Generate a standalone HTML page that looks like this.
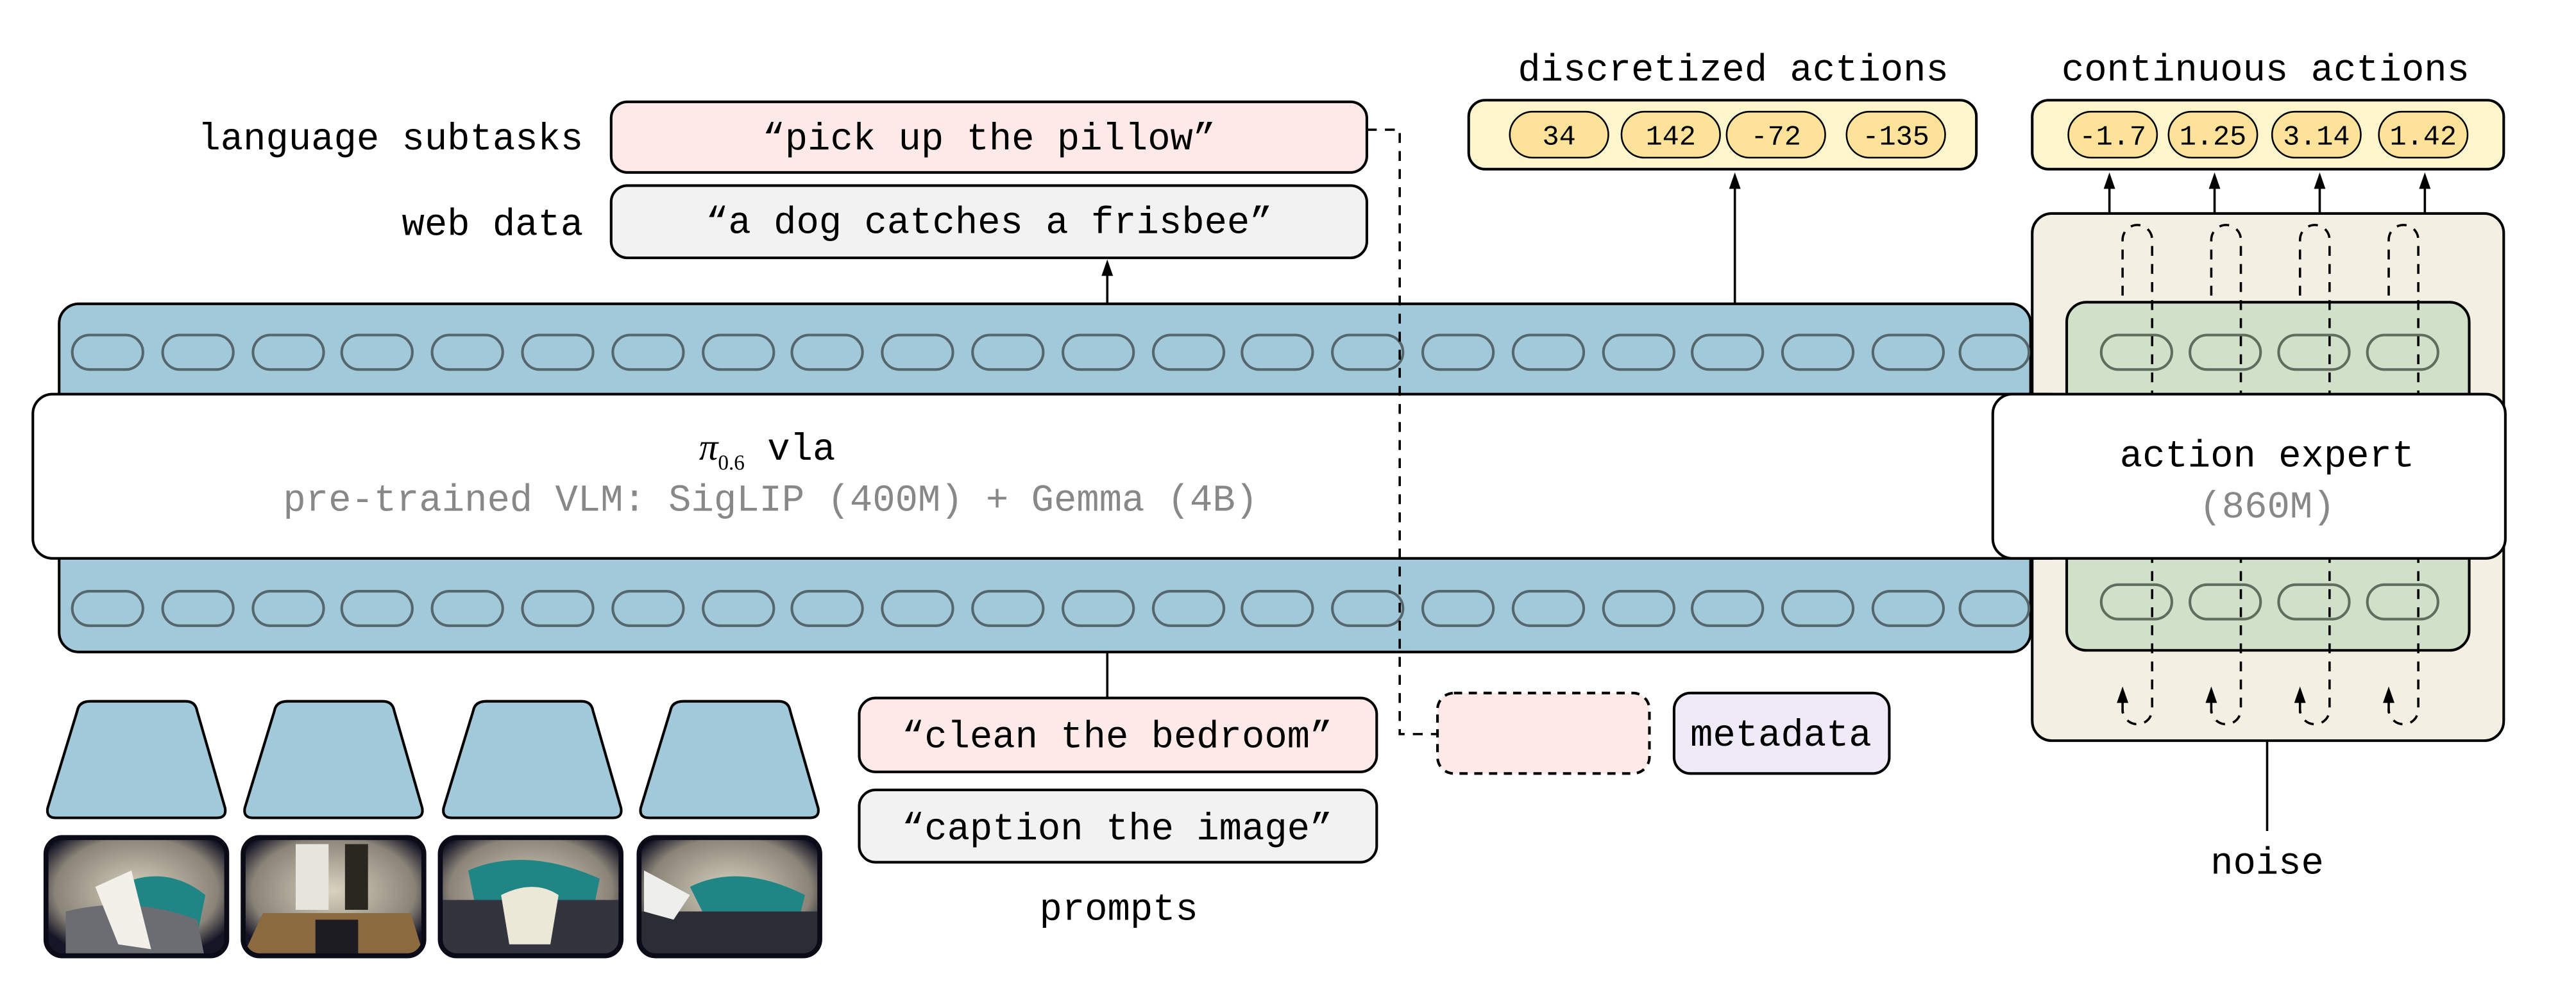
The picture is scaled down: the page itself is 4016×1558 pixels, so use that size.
<!DOCTYPE html>
<html><head><meta charset="utf-8"><style>
html,body{margin:0;padding:0;background:#fff;}
svg{display:block;}
text{font-family:"Liberation Mono","DejaVu Sans Mono",monospace;}
</style></head><body>
<svg width="4016" height="1558" viewBox="0 0 1568 608.3" xmlns="http://www.w3.org/2000/svg">
<defs>
<clipPath id="p1"><rect x="28" y="510" width="110" height="72" rx="10"/></clipPath>
<clipPath id="p2"><rect x="148" y="510" width="110" height="72" rx="10"/></clipPath>
<clipPath id="p3"><rect x="268" y="510" width="110" height="72" rx="10"/></clipPath>
<clipPath id="p4"><rect x="389" y="510" width="110" height="72" rx="10"/></clipPath>
<radialGradient id="room" cx="0.5" cy="0.45" r="0.6"><stop offset="0" stop-color="#d8d2c0"/><stop offset="0.75" stop-color="#8a8478"/><stop offset="1" stop-color="#151526"/></radialGradient>
</defs>

<!-- top labels -->
<text x="355" y="91" font-size="23" text-anchor="end">language subtasks</text>
<rect x="372" y="62" width="460" height="43" rx="10" fill="#fde9e7" stroke="#000" stroke-width="1.6"/>
<text x="602" y="91" font-size="23" text-anchor="middle">“pick up the pillow”</text>
<text x="355" y="143" font-size="23" text-anchor="end">web data</text>
<rect x="372" y="113" width="460" height="44" rx="10" fill="#f2f2f2" stroke="#000" stroke-width="1.6"/>
<text x="602" y="142" font-size="23" text-anchor="middle">“a dog catches a frisbee”</text>
<line x1="674" y1="185" x2="674" y2="166" stroke="#000" stroke-width="1.4"/>
<path d="M670.5,168 L674,158 L677.5,168 Z"/>

<!-- discretized -->
<text x="1055" y="49" font-size="23" text-anchor="middle">discretized actions</text>
<rect x="894" y="61" width="309" height="42" rx="10" fill="#fdf6cc" stroke="#000" stroke-width="1.6"/>
<g stroke="#000" stroke-width="1">
<rect x="919" y="68" width="60" height="28" rx="14" fill="#fde29a"/>
<rect x="987" y="68" width="60" height="28" rx="14" fill="#fde29a"/>
<rect x="1051" y="68" width="60" height="28" rx="14" fill="#fde29a"/>
<rect x="1124" y="68" width="60" height="28" rx="14" fill="#fde29a"/>
</g>
<g font-size="17" text-anchor="middle">
<text x="949" y="88">34</text><text x="1017" y="88">142</text><text x="1081" y="88">-72</text><text x="1154" y="88">-135</text>
</g>
<line x1="1056" y1="185" x2="1056" y2="113" stroke="#000" stroke-width="1.4"/>
<path d="M1052.5,115 L1056,105 L1059.5,115 Z"/>

<!-- continuous -->
<text x="1379" y="49" font-size="23" text-anchor="middle">continuous actions</text>
<rect x="1237" y="61" width="287" height="42" rx="10" fill="#fdf6cc" stroke="#000" stroke-width="1.6"/>
<g stroke="#000" stroke-width="1">
<rect x="1259" y="68" width="54" height="28" rx="14" fill="#fde29a"/>
<rect x="1320" y="68" width="54" height="28" rx="14" fill="#fde29a"/>
<rect x="1383" y="68" width="54" height="28" rx="14" fill="#fde29a"/>
<rect x="1448" y="68" width="54" height="28" rx="14" fill="#fde29a"/>
</g>
<g font-size="17" text-anchor="middle">
<text x="1286" y="88">-1.7</text><text x="1347" y="88">1.25</text><text x="1410" y="88">3.14</text><text x="1475" y="88">1.42</text>
</g>

<!-- action expert outer -->
<rect x="1237" y="130" width="287" height="321" rx="12" fill="#f3efe2" stroke="#000" stroke-width="1.6"/>
<g stroke="#000" stroke-width="1.4">
<line x1="1284" y1="130" x2="1284" y2="113"/><line x1="1348" y1="130" x2="1348" y2="113"/><line x1="1412" y1="130" x2="1412" y2="113"/><line x1="1476" y1="130" x2="1476" y2="113"/>
</g>
<path d="M1280.5,115 L1284,105 L1287.5,115 Z M1344.5,115 L1348,105 L1351.5,115 Z M1408.5,115 L1412,105 L1415.5,115 Z M1472.5,115 L1476,105 L1479.5,115 Z"/>

<!-- blue band -->
<rect x="36" y="185" width="1200" height="212" rx="12" fill="#a2c9d9" stroke="#000" stroke-width="1.6"/>
<g fill="none" stroke="#56666d" stroke-width="1.6" id="tk">
<rect x="44" y="204" width="43" height="21" rx="10.5"/><rect x="99" y="204" width="43" height="21" rx="10.5"/><rect x="154" y="204" width="43" height="21" rx="10.5"/><rect x="208" y="204" width="43" height="21" rx="10.5"/><rect x="263" y="204" width="43" height="21" rx="10.5"/><rect x="318" y="204" width="43" height="21" rx="10.5"/><rect x="373" y="204" width="43" height="21" rx="10.5"/><rect x="428" y="204" width="43" height="21" rx="10.5"/><rect x="482" y="204" width="43" height="21" rx="10.5"/><rect x="537" y="204" width="43" height="21" rx="10.5"/><rect x="592" y="204" width="43" height="21" rx="10.5"/><rect x="647" y="204" width="43" height="21" rx="10.5"/><rect x="702" y="204" width="43" height="21" rx="10.5"/><rect x="756" y="204" width="43" height="21" rx="10.5"/><rect x="811" y="204" width="43" height="21" rx="10.5"/><rect x="866" y="204" width="43" height="21" rx="10.5"/><rect x="921" y="204" width="43" height="21" rx="10.5"/><rect x="976" y="204" width="43" height="21" rx="10.5"/><rect x="1030" y="204" width="43" height="21" rx="10.5"/><rect x="1085" y="204" width="43" height="21" rx="10.5"/><rect x="1140" y="204" width="43" height="21" rx="10.5"/><rect x="1193" y="204" width="42" height="21" rx="10.5"/>
</g>
<use href="#tk" y="156"/>

<!-- green -->
<rect x="1258" y="184" width="245" height="212" rx="12" fill="#d0e0c9" stroke="#000" stroke-width="1.6"/>
<g fill="none" stroke="#5f6d5e" stroke-width="1.6" id="gt">
<rect x="1279" y="204" width="43" height="21" rx="10.5"/><rect x="1333" y="204" width="43" height="21" rx="10.5"/><rect x="1387" y="204" width="43" height="21" rx="10.5"/><rect x="1441" y="204" width="43" height="21" rx="10.5"/>
</g>
<use href="#gt" y="152"/>

<!-- dashed loops -->
<g fill="none" stroke="#000" stroke-width="1.4" stroke-dasharray="6,5">
<path d="M1292,180 L1292,146 A9,9 0 0 1 1310,146 L1310,432 A9,9 0 0 1 1292,432"/>
<path d="M1346,180 L1346,146 A9,9 0 0 1 1364,146 L1364,432 A9,9 0 0 1 1346,432"/>
<path d="M1400,180 L1400,146 A9,9 0 0 1 1418,146 L1418,432 A9,9 0 0 1 1400,432"/>
<path d="M1454,180 L1454,146 A9,9 0 0 1 1472,146 L1472,432 A9,9 0 0 1 1454,432"/>
</g>
<g stroke="#000" stroke-width="1.4">
<line x1="1292" y1="434" x2="1292" y2="426"/><line x1="1346" y1="434" x2="1346" y2="426"/><line x1="1400" y1="434" x2="1400" y2="426"/><line x1="1454" y1="434" x2="1454" y2="426"/>
</g>
<path d="M1288.5,428 L1292,418 L1295.5,428 Z M1342.5,428 L1346,418 L1349.5,428 Z M1396.5,428 L1400,418 L1403.5,428 Z M1450.5,428 L1454,418 L1457.5,428 Z"/>

<!-- VLM white -->
<rect x="20" y="240" width="1240" height="100" rx="12" fill="#fff" stroke="#000" stroke-width="1.6"/>
<text x="467" y="280" font-size="23" text-anchor="middle"><tspan font-family="Liberation Serif,serif" font-style="italic">π</tspan><tspan font-family="Liberation Serif,serif" font-size="13" dy="6">0.6</tspan><tspan dy="-6"> vla</tspan></text>
<text x="469" y="311" font-size="23" text-anchor="middle" fill="#888">pre-trained VLM: SigLIP (400M) + Gemma (4B)</text>

<!-- action expert white -->
<rect x="1213" y="240" width="312" height="100" rx="12" fill="#fff" stroke="#000" stroke-width="1.6"/>
<text x="1380" y="284" font-size="23" text-anchor="middle">action expert</text>
<text x="1380" y="315" font-size="23" text-anchor="middle" fill="#888">(860M)</text>

<!-- dashed connector -->
<path d="M832,79 L852,79 L852,447 L875,447" fill="none" stroke="#000" stroke-width="1.4" stroke-dasharray="6,5"/>
<rect x="875" y="422" width="129" height="49" rx="10" fill="#fde9e7" stroke="#000" stroke-width="1.6" stroke-dasharray="5,4"/>
<rect x="1019" y="422" width="131" height="49" rx="10" fill="#efeaf7" stroke="#000" stroke-width="1.6"/>
<text x="1084" y="454" font-size="23" text-anchor="middle">metadata</text>

<!-- prompts -->
<line x1="674" y1="397" x2="674" y2="425" stroke="#000" stroke-width="1.4"/>
<rect x="523" y="425" width="315" height="45" rx="10" fill="#fde9e7" stroke="#000" stroke-width="1.6"/>
<text x="680" y="455" font-size="23" text-anchor="middle">“clean the bedroom”</text>
<rect x="523" y="481" width="315" height="44" rx="10" fill="#f2f2f2" stroke="#000" stroke-width="1.6"/>
<text x="680" y="511" font-size="23" text-anchor="middle">“caption the image”</text>
<text x="681" y="560" font-size="23" text-anchor="middle">prompts</text>

<!-- noise -->
<line x1="1380" y1="451" x2="1380" y2="506" stroke="#000" stroke-width="1.4"/>
<text x="1380" y="532" font-size="23" text-anchor="middle">noise</text>

<!-- trapezoids -->
<g fill="#a2c9d9" stroke="#000" stroke-width="1.6">
<path d="M55,427 L113,427 Q119,427 120,433 L137,492 Q138,498 132,498 L34,498 Q28,498 29,492 L47,433 Q48,427 55,427 Z"/>
<path d="M175,427 L233,427 Q239,427 240,433 L257,492 Q258,498 252,498 L154,498 Q148,498 149,492 L167,433 Q168,427 175,427 Z"/>
<path d="M296,427 L354,427 Q360,427 361,433 L378,492 Q379,498 373,498 L275,498 Q269,498 270,492 L288,433 Q289,427 296,427 Z"/>
<path d="M416,427 L474,427 Q480,427 481,433 L498,492 Q499,498 493,498 L395,498 Q389,498 390,492 L408,433 Q409,427 416,427 Z"/>
</g>

<!-- photos -->
<g clip-path="url(#p1)"><rect x="28" y="510" width="110" height="72" fill="url(#room)"/><path d="M70,540 Q100,525 125,545 L120,570 L80,565 Z" fill="#1f8585"/><path d="M40,555 Q80,545 120,560 L125,585 L40,585 Z" fill="#6b6d72"/><path d="M58,540 L80,530 L92,578 L72,575 Z" fill="#f2f0e8"/></g>
<g clip-path="url(#p2)"><rect x="148" y="510" width="110" height="72" fill="url(#room)"/><rect x="180" y="514" width="20" height="40" fill="#e8e6dc"/><rect x="210" y="514" width="14" height="40" fill="#2a2620"/><path d="M160,556 L250,556 L258,582 L148,582 Z" fill="#8c6a40"/><rect x="192" y="560" width="26" height="22" fill="#1c1c22"/></g>
<g clip-path="url(#p3)"><rect x="268" y="510" width="110" height="72" fill="url(#room)"/><path d="M285,530 Q320,515 365,535 L360,560 L290,555 Z" fill="#1f8585"/><path d="M268,548 L378,548 L378,582 L268,582 Z" fill="#34343e"/><path d="M305,545 Q325,535 340,545 L335,575 L310,575 Z" fill="#ece8d8"/></g>
<g clip-path="url(#p4)"><rect x="389" y="510" width="110" height="72" fill="url(#room)"/><path d="M420,540 Q450,525 490,545 L485,565 L430,560 Z" fill="#1f8585"/><path d="M389,555 L499,555 L499,582 L389,582 Z" fill="#2c2c36"/><path d="M392,530 L420,545 L410,560 L392,555 Z" fill="#eeeeea"/></g>
<g fill="none" stroke="#0b0b18" stroke-width="3">
<rect x="28" y="510" width="110" height="72" rx="10"/><rect x="148" y="510" width="110" height="72" rx="10"/><rect x="268" y="510" width="110" height="72" rx="10"/><rect x="389" y="510" width="110" height="72" rx="10"/>
</g>
</svg>
</body></html>
